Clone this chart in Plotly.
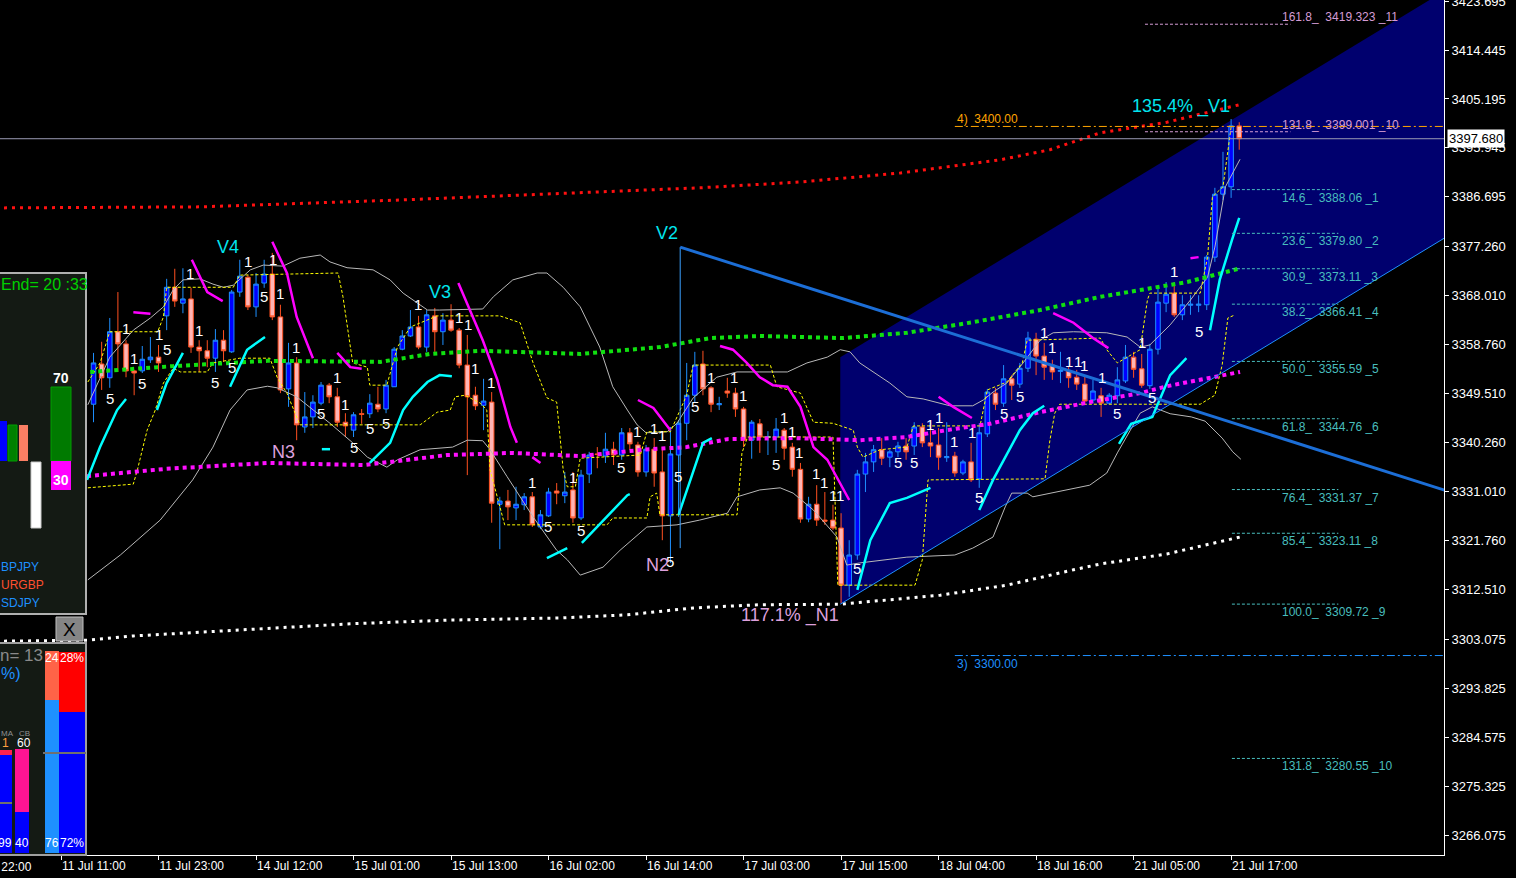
import plotly.graph_objects as go

# ---------------- data ----------------
bar_idx = list(range(16, 158))
open_px = [3347.5,3355.1,3352.5,3361.2,3358.9,3353.8,3353.8,3355.9,3356.4,3364.2,
           3369.6,3366.6,3367.4,3358.3,3357.6,3356.2,3359.6,3357.4,3368.7,3371.5,
           3365.9,3370.4,3372.1,3364.0,3350.4,3355.3,3343.2,3345.1,3347.7,3351.1,
           3348.9,3344.1,3342.6,3345.7,3345.7,3347.5,3346.6,3350.8,3357.9,3360.4,
           3362.1,3358.3,3364.2,3361.2,3363.4,3361.5,3354.9,3349.2,3347.3,3347.9,
           3328.6,3329.2,3327.9,3328.5,3330.0,3324.3,3326.4,3331.1,3330.2,3331.3,
           3326.0,3334.3,3338.1,3337.7,3339.0,3337.9,3342.1,3339.8,3334.7,3339.0,
           3334.7,3326.4,3337.9,3343.9,3349.2,3355.1,3350.6,3347.4,3350.0,3349.6,
           3346.6,3340.7,3343.8,3341.2,3341.3,3342.6,3339.4,3335.2,3325.8,3328.6,
           3325.6,3325.6,3324.1,3313.3,3319.0,3334.3,3336.6,3338.9,3337.5,3338.5,
           3339.6,3339.6,3343.2,3340.2,3339.8,3337.4,3337.7,3334.5,3336.6,3333.4,
           3341.9,3349.6,3347.7,3352.3,3351.3,3354.3,3359.8,3356.6,3354.9,3353.7,
           3353.8,3352.6,3351.3,3348.3,3349.1,3347.7,3349.1,3351.9,3356.4,3354.2,
           3351.0,3357.9,3366.6,3368.5,3364.4,3366.2,3366.2,3366.3,3375.3,3387.2,
           3388.6,3400.1]
high_px = [3357.2,3359.3,3363.8,3368.7,3359.6,3354.0,3358.5,3360.2,3358.7,3371.2,
           3373.1,3373.2,3369.5,3359.6,3359.6,3361.7,3361.5,3369.1,3374.8,3371.9,
           3372.3,3374.8,3376.1,3366.3,3359.1,3356.4,3349.8,3349.2,3351.7,3351.5,
           3350.6,3345.8,3346.0,3346.6,3349.4,3350.8,3352.1,3358.3,3361.5,3365.3,
           3364.2,3365.3,3365.7,3364.7,3366.4,3361.9,3360.6,3350.8,3352.3,3349.8,
           3330.0,3331.3,3331.9,3330.7,3330.9,3327.5,3331.7,3332.6,3334.7,3334.7,
           3335.1,3338.5,3339.4,3342.1,3340.4,3343.0,3343.0,3340.4,3339.8,3341.1,
           3339.4,3343.2,3344.5,3355.3,3357.4,3357.6,3350.9,3348.9,3352.5,3350.6,
           3347.0,3344.5,3344.7,3342.4,3344.9,3343.0,3340.2,3336.4,3330.0,3332.2,
           3330.9,3328.5,3326.9,3321.8,3335.1,3338.3,3339.8,3341.1,3338.9,3340.4,
           3341.1,3344.1,3343.9,3343.6,3343.0,3344.1,3338.5,3337.0,3340.2,3343.9,
           3350.4,3350.6,3354.9,3353.0,3355.3,3361.2,3361.0,3359.1,3355.9,3357.4,
           3354.5,3354.0,3353.0,3352.1,3350.6,3349.6,3354.5,3358.7,3357.4,3357.0,
           3358.9,3369.6,3370.6,3370.6,3368.1,3368.1,3368.1,3375.7,3388.4,3395.2,
           3401.4,3400.8]
low_px = [3344.1,3350.2,3350.6,3353.6,3352.6,3349.2,3353.4,3355.3,3353.6,3361.5,
          3365.9,3364.7,3357.2,3353.6,3354.5,3353.6,3355.5,3357.2,3367.8,3365.3,
          3364.0,3369.5,3363.4,3349.6,3347.0,3340.7,3342.1,3343.0,3347.3,3347.7,
          3343.2,3341.3,3341.3,3343.8,3344.9,3346.0,3345.8,3350.8,3357.7,3360.2,
          3357.9,3357.4,3357.4,3358.7,3361.2,3354.3,3334.1,3346.4,3342.6,3325.1,
          3320.1,3325.6,3325.6,3327.5,3324.3,3323.9,3326.2,3328.6,3328.8,3325.1,
          3325.6,3332.6,3335.4,3336.4,3336.0,3337.0,3338.9,3333.8,3333.8,3331.9,
          3321.8,3317.5,3326.2,3340.7,3347.9,3349.2,3346.0,3346.4,3348.7,3345.1,
          3339.4,3337.2,3338.3,3337.9,3338.3,3337.0,3333.8,3325.1,3325.2,3324.5,
          3324.7,3323.7,3309.9,3311.1,3318.1,3330.9,3334.7,3336.0,3335.6,3337.5,
          3337.0,3337.9,3339.4,3337.5,3335.1,3336.6,3333.8,3334.1,3332.8,3331.7,
          3341.3,3346.4,3347.0,3348.3,3350.6,3353.6,3353.0,3352.1,3352.1,3351.5,
          3350.6,3350.2,3347.7,3347.7,3345.1,3347.5,3347.7,3351.5,3352.5,3350.6,
          3350.4,3356.9,3364.9,3364.0,3363.4,3364.4,3364.9,3365.3,3374.4,3386.1,
          3386.5,3395.6]
close_px = [3355.3,3352.5,3361.2,3358.9,3353.8,3353.4,3356.0,3356.4,3355.3,3369.6,
            3367.0,3367.4,3358.3,3357.6,3356.2,3359.6,3357.6,3368.7,3371.7,3365.9,
            3370.2,3372.1,3364.0,3350.2,3355.3,3343.6,3345.1,3347.9,3351.1,3348.9,
            3344.1,3343.4,3345.5,3345.6,3347.7,3346.6,3351.1,3357.9,3360.4,3362.1,
            3358.3,3364.4,3361.2,3363.4,3361.5,3354.9,3348.9,3347.2,3348.1,3328.8,
            3329.2,3328.1,3328.6,3330.0,3324.7,3326.6,3330.9,3330.7,3330.9,3326.0,
            3334.1,3337.9,3338.0,3339.0,3337.9,3342.1,3340.0,3334.7,3339.0,3334.5,
            3326.4,3338.1,3343.9,3349.2,3354.9,3350.4,3347.5,3347.6,3349.6,3346.6,
            3340.7,3344.1,3341.3,3341.4,3342.8,3339.2,3335.2,3325.8,3328.6,3325.6,
            3325.4,3324.1,3313.3,3319.0,3334.3,3336.6,3338.9,3337.3,3338.5,3339.6,
            3338.5,3343.2,3340.2,3339.6,3337.5,3337.6,3334.5,3336.6,3333.2,3342.1,
            3349.8,3347.5,3352.3,3351.1,3354.3,3360.0,3356.6,3354.5,3353.6,3353.9,
            3352.5,3351.3,3348.1,3350.0,3347.7,3349.2,3352.1,3356.4,3354.1,3351.1,
            3357.9,3366.8,3368.3,3364.4,3366.3,3366.4,3366.4,3375.3,3387.2,3388.6,
            3400.1,3397.68]

tick_bars = [12, 24, 36, 48, 60, 72, 84, 96, 108, 120, 132, 144, 156]
tick_text = ["11 Jul 11:00", "11 Jul 23:00", "14 Jul 12:00", "15 Jul 01:00",
             "15 Jul 13:00", "16 Jul 02:00", "16 Jul 14:00", "17 Jul 03:00",
             "17 Jul 15:00", "18 Jul 04:00", "18 Jul 16:00", "21 Jul 05:00",
             "21 Jul 17:00"]
price_ticks = [3423.695, 3414.445, 3405.195, 3395.945, 3386.695, 3377.260,
               3368.010, 3358.760, 3349.510, 3340.260, 3331.010, 3321.760,
               3312.510, 3303.075, 3293.825, 3284.575, 3275.325, 3266.075]

red_ma_x = [4.0, 29.1, 53.7, 78.3, 90.6, 103.0, 115.3, 127.6, 133.7, 139.9, 148.1, 157.0]
red_ma_y = [3384.6, 3384.8, 3386.1, 3387.6, 3388.4, 3389.5, 3391.2, 3393.7, 3395.6, 3398.8, 3400.8, 3404.1]
green_ma_x = [15.6, 25.8, 37.4, 51.3, 57.4, 63.6, 75.9, 85.7, 91.9, 98.0, 108.2, 116.1,
              124.2, 132.5, 139.9, 145.2, 150.6, 156.9]
green_ma_y = [3353.6, 3354.7, 3355.7, 3355.5, 3357.0, 3357.6, 3357.0, 3358.3, 3360.0, 3360.4,
              3360.0, 3361.0, 3363.0, 3365.3, 3367.8, 3369.1, 3370.6, 3373.1]
magenta_ma_x = [15.2, 25.0, 37.4, 49.2, 55.3, 59.5, 67.6, 75.9, 83.6, 89.0, 94.0, 102.1,
                110.3, 116.1, 121.0, 126.3, 132.5, 138.6, 144.8, 148.1, 157.1]
magenta_ma_y = [3333.9, 3335.3, 3336.4, 3336.0, 3337.1, 3337.9, 3338.3, 3337.7, 3338.9,
                3339.4, 3340.9, 3341.1, 3340.7, 3341.3, 3342.6, 3343.8, 3346.0, 3347.9,
                3349.6, 3350.9, 3353.6]
white_ma_x = [4.0, 15.2, 20.9, 29.1, 35.0, 47.6, 59.9, 73.4, 81.7, 89.8, 98.0, 107.9,
              120.2, 128.4, 136.6, 139.9, 148.1, 157.1]
white_ma_y = [3302.7, 3302.9, 3303.7, 3304.4, 3304.8, 3306.0, 3306.7, 3307.1, 3307.7,
              3309.0, 3309.6, 3309.7, 3311.4, 3313.3, 3316.2, 3317.3, 3319.2, 3322.4]

bb_up_x = [15.3,18.0,20.9,23.0,24.6,25.8,27.0,29.1,30.7,32.0,33.2,35.3,36.9,39.3,41.4,
           43.9,45.1,47.2,50.4,52.5,54.1,55.3,57.1,58.6,62.0,63.9,65.2,67.6,70.6,71.8,
           73.8,75.9,78.3,79.9,81.7,82.9,84.0,86.6,87.8,89.8,92.7,95.2,98.0,101.4,103.8,
           106.3,107.9,109.1,110.3,111.9,114.0,116.1,118.1,121.4,124.2,125.5,126.7,128.4,
           130.4,132.5,134.1,136.6,140.7,143.2,144.8,146.0,148.5,151.0,153.1,154.0,155.3,157.1]
bb_up_y = [3347.4,3356.4,3361.5,3363.8,3365.9,3369.1,3371.0,3371.2,3370.2,3369.6,3370.0,
           3372.9,3373.8,3373.6,3375.1,3375.7,3374.4,3373.3,3372.9,3371.0,3368.5,3367.2,
           3365.3,3365.3,3365.5,3365.5,3367.8,3371.0,3372.3,3372.3,3369.6,3365.9,3358.3,
           3350.8,3346.4,3343.6,3342.1,3342.3,3343.9,3348.7,3352.6,3353.6,3353.6,3353.6,
           3355.3,3356.4,3357.8,3357.4,3355.3,3353.6,3351.5,3348.9,3348.5,3347.2,3347.2,
           3348.3,3349.8,3351.5,3355.3,3359.6,3361.0,3361.2,3361.0,3360.2,3358.3,3358.7,
           3362.5,3367.2,3371.5,3377.2,3388.6,3393.8]
bb_lo_x = [15.3,19.3,24.2,28.2,30.7,32.8,34.9,37.4,38.6,41.0,45.1,47.9,49.7,52.1,53.4,
           56.2,60.2,62.0,63.9,64.8,66.9,70.1,73.0,74.3,75.9,78.7,80.8,84.1,87.8,90.6,
           94.0,95.2,98.0,100.5,102.1,104.6,107.5,108.7,110.3,116.1,122.0,124.2,126.7,
           128.2,129.0,130.9,131.6,134.6,138.6,140.7,142.0,143.6,144.8,146.3,148.5,151.1,
           152.8,154.9,156.2,157.2]
bb_lo_y = [3314.3,3319.0,3325.6,3333.2,3339.4,3346.4,3350.2,3350.9,3350.6,3348.9,3343.9,
           3340.2,3337.5,3335.6,3337.0,3338.9,3339.4,3340.7,3340.6,3338.9,3333.8,3326.2,
           3319.9,3318.1,3315.2,3316.7,3319.9,3324.3,3324.7,3325.6,3326.9,3330.0,3331.3,
           3331.7,3330.7,3327.5,3322.4,3317.1,3317.5,3318.6,3319.0,3320.3,3322.4,3328.1,
           3330.7,3330.7,3330.0,3330.9,3332.2,3334.5,3338.3,3342.6,3345.8,3347.0,3345.7,
           3345.1,3344.3,3341.1,3338.5,3337.1]

yel_up_x = [15.3,16.8,18.0,23.9,24.6,25.0,33.2,34.0,46.1,46.7,47.9,49.7,50.0,52.1,53.4,
            55.0,58.3,66.0,68.5,70.1,71.8,73.0,73.8,74.3,75.3,75.9,83.3,84.1,87.0,89.0,
            89.8,99.3,100.1,103.0,104.6,107.0,109.5,110.0,110.7,112.8,116.1,116.9,125.1,
            126.0,128.4,130.3,130.9,139.9,140.7,142.0,143.0,144.8,145.7,146.0,152.2,153.1,
            153.7,155.0,155.5,156.0]
yel_up_y = [3351.7,3355.3,3361.2,3361.2,3364.0,3369.6,3369.6,3371.9,3372.3,3367.8,3355.3,
            3354.5,3351.1,3351.1,3358.3,3362.1,3364.2,3364.2,3362.9,3355.3,3348.7,3347.9,
            3335.1,3331.9,3331.9,3337.3,3337.9,3342.3,3342.3,3349.2,3354.9,3354.9,3350.8,
            3349.6,3344.1,3343.9,3342.6,3339.4,3337.5,3338.9,3339.4,3343.4,3343.4,3350.2,
            3351.7,3355.3,3359.6,3360.0,3357.8,3355.3,3356.2,3357.8,3367.2,3368.5,3368.5,
            3375.3,3386.7,3388.6,3394.2,3399.9]
yel_lo_x = [15.3,20.9,21.4,22.6,23.6,24.6,25.8,26.7,30.0,30.7,34.0,37.7,38.6,39.8,41.4,
            56.2,58.3,59.9,60.5,61.7,63.6,64.4,64.8,66.0,66.6,79.2,79.9,84.1,84.5,85.3,
            85.7,95.2,95.8,96.5,107.0,107.6,117.1,118.0,118.7,133.1,133.7,134.3,134.9,
            152.2,154.0,154.9,155.6,156.5]
yel_lo_y = [3331.7,3332.4,3335.1,3342.6,3346.4,3351.5,3354.3,3353.6,3353.6,3355.3,3356.2,
            3356.2,3352.6,3349.6,3343.6,3343.6,3346.0,3346.4,3348.9,3349.2,3347.7,3346.4,
            3335.1,3328.1,3324.7,3324.7,3326.0,3326.0,3330.0,3330.7,3326.6,3326.6,3338.3,
            3341.3,3341.3,3313.3,3313.3,3318.1,3333.2,3333.4,3340.7,3345.8,3347.5,3347.5,
            3349.2,3354.9,3363.8,3364.4]

cyan_segments = [
    ([15.2, 16.8, 18.9, 20.0], [3333.2, 3339.4, 3346.4, 3348.5]),
    ([23.8, 25.0, 27.0], [3346.4, 3351.5, 3357.2]),
    ([32.8, 34.9, 37.1], [3350.8, 3357.8, 3360.2]),
    ([44.1, 45.1], [3339.0, 3339.0]),
    ([50.0, 52.5, 54.1, 55.3, 57.1, 58.6, 60.1], [3336.4, 3340.2, 3346.4, 3348.9, 3351.7, 3353.0, 3352.8]),
    ([71.8, 74.3], [3318.4, 3320.3]),
    ([76.1, 79.6, 81.7, 82.0], [3321.3, 3326.9, 3330.3, 3330.5]),
    ([88.0, 91.0, 92.1], [3326.6, 3340.2, 3341.1]),
    ([110.0, 111.6, 114.0, 116.1, 119.0], [3312.4, 3321.8, 3328.8, 3329.8, 3331.7]),
    ([125.0, 126.7, 130.0, 131.6, 133.0], [3327.5, 3333.2, 3342.6, 3345.8, 3347.2]),
    ([142.2, 143.7, 146.3, 148.5, 150.5], [3340.0, 3343.8, 3345.1, 3353.0, 3356.2]),
    ([153.4, 154.6, 156.1, 157.0], [3361.5, 3371.0, 3378.5, 3382.7]),
]
magenta_segments = [
    ([20.9, 23.0], [3364.9, 3364.6]),
    ([28.1, 30.0, 31.9], [3374.8, 3368.7, 3367.0]),
    ([38.0, 39.8, 41.0, 43.0], [3378.2, 3372.3, 3364.0, 3356.2]),
    ([46.0, 47.6, 49.0], [3357.2, 3354.5, 3354.2]),
    ([60.9, 62.3, 63.9, 65.7, 67.3, 68.1], [3370.4, 3365.3, 3359.6, 3352.1, 3343.2, 3340.2]),
    ([70.0, 71.0], [3337.5, 3336.4]),
    ([83.0, 84.9, 87.0], [3348.3, 3346.8, 3342.6]),
    ([93.1, 94.7, 96.4, 98.0, 99.6, 101.4, 103.0, 104.6, 106.3, 107.9, 109.0],
     [3358.5, 3357.8, 3355.3, 3352.6, 3351.1, 3350.8, 3347.0, 3339.4, 3337.0, 3332.6, 3329.4]),
    ([120.0, 121.8, 124.1], [3348.9, 3347.0, 3344.9]),
    ([134.1, 136.6, 139.0, 140.9], [3364.7, 3362.9, 3360.0, 3358.1]),
    ([151.0, 152.0], [3375.1, 3375.3]),
]

count_x = [20.0,21.0,18.0,22.0,24.0,25.0,27.9,29.0,31.0,33.0,35.0,37.0,38.1,39.0,40.9,
           44.0,46.0,47.0,48.0,50.0,52.0,55.9,61.0,62.1,63.0,64.9,70.0,71.9,75.0,76.0,
           80.9,82.9,85.0,86.0,87.9,86.9,90.0,92.0,94.8,95.9,100.0,101.0,101.9,102.8,
           104.9,105.9,107.0,107.9,110.0,115.0,117.0,119.0,120.0,121.9,124.1,125.0,128.0,
           130.0,133.0,134.0,136.0,137.1,137.9,140.1,142.0,145.0,146.3,149.0,152.0]
count_y = [3361.9,3356.2,3348.5,3351.5,3360.6,3357.9,3372.3,3361.5,3351.7,3354.5,3374.4,
           3367.8,3374.8,3368.5,3358.3,3345.8,3352.5,3347.5,3339.4,3343.0,3343.9,3366.3,
           3363.8,3362.5,3354.3,3351.7,3332.8,3324.3,3333.6,3323.7,3335.6,3342.4,3343.0,
           3341.5,3333.9,3317.7,3347.0,3352.6,3352.6,3349.2,3336.2,3344.9,3342.3,3338.3,
           3334.5,3332.8,3330.3,3330.3,3316.5,3336.4,3336.4,3343.6,3344.9,3340.4,3342.1,
           3329.8,3345.8,3348.9,3361.0,3358.3,3355.5,3355.5,3354.9,3352.5,3345.8,3359.1,
           3348.7,3372.5,3361.2]
count_text = ["1","1","5","5","1","5","1","1","5","5","1","5","1","1","1",
              "5","1","1","5","5","5","1","1","1","1","1","1","5","1","5",
              "5","1","1","1","5","5","5","1","1","1","5","1","1","1",
              "1","1","1","1","5","5","5","1","1","1","1","5","5",
              "5","1","1","1","1","1","1","5","1","5","1","5"]

wave_text = ["V4", "V3", "V2", "135.4% _V1", "N3", "N2", "117.1% _N1"]
wave_x = [32.5, 58.6, 86.6, 149.8, 39.4, 85.4, 101.7]
wave_y = [3377.2, 3368.7, 3379.9, 3403.7, 3338.5, 3317.1, 3307.5]

# V2 trend line and N1-based channel
trend_x = [88.2, 183.0]
trend_y = [3377.2, 3330.9]
v2_drop_y = [3377.2, 3320.3]
channel_x = [107.9, 183.0]
channel_lower = [3309.7, 3379.6]
channel_upper = [3356.4, 3426.3]

last_price = 3397.68
level_prices = [3400.00, 3300.00]
level_names = ["4)  3400.00", "3)  3300.00"]
level_start = 122.0

fib_low_prices = [3388.06, 3379.80, 3373.11, 3366.41, 3355.59, 3344.76, 3331.37, 3323.11, 3309.72, 3280.55]
fib_low_labels = ["14.6_  3388.06 _1", "23.6_  3379.80 _2", "30.9_  3373.11 _3", "38.2_  3366.41 _4",
                  "50.0_  3355.59 _5", "61.8_  3344.76 _6", "76.4_  3331.37 _7", "85.4_  3323.11 _8",
                  "100.0_  3309.72 _9", "131.8_  3280.55 _10"]
fib_high_prices = [3419.323, 3399.001]
fib_high_labels = ["161.8_  3419.323 _11", "131.8_  3399.001 _10"]
fib_low_span = [156.1, 169.2]
fib_high_span = [145.4, 163.3]
fib_label_x = 162.0

# ---------------- figure ----------------
X0, X1 = 4.49, 182.2
Y0, Y1 = 3262.3, 3423.9
PW, PH = 1444, 855
FONT = "Liberation Sans, Arial, sans-serif"
CYAN = "#00E5EE"
PLUM = "#DDA0DD"
TEAL = "#48BEBE"
PINKF = "#D49CD4"

def pxp(x):
    return x / PW

def pyp(y):
    return 1 - y / PH

def bar_paper(b):
    return (b - X0) / (X1 - X0)

fig = go.Figure()
shapes = []
annotations = []

# channel fill (below traces)
shapes.append(dict(type="path", xref="x", yref="y", layer="below",
                   path=f"M {channel_x[0]},{channel_lower[0]} L {channel_x[1]},{channel_lower[1]} "
                        f"L {channel_x[1]},{channel_upper[1]} L {channel_x[0]},{channel_upper[0]} Z",
                   fillcolor="#00006E", line=dict(width=0)))

def line(x, y, color, width=1, dash=None):
    fig.add_trace(go.Scatter(x=x, y=y, mode="lines", hoverinfo="skip",
                             line=dict(color=color, width=width, dash=dash)))

line(bb_up_x, bb_up_y, "#B8B8B8", 1)
line(bb_lo_x, bb_lo_y, "#B8B8B8", 1)
line(yel_up_x, yel_up_y, "#FFFF00", 1, "3px,2px")
line(yel_lo_x, yel_lo_y, "#FFFF00", 1, "3px,2px")
line(red_ma_x, red_ma_y, "#FF1010", 3, "3px,5px")
line(white_ma_x, white_ma_y, "#FFFFFF", 3, "3px,5px")
line(green_ma_x, green_ma_y, "#10E010", 4, "4px,4px")
line(magenta_ma_x, magenta_ma_y, "#FF10FF", 4, "4px,4px")
for sx, sy in cyan_segments:
    line(sx, sy, "#00FFFF", 2.5)
for sx, sy in magenta_segments:
    line(sx, sy, "#FF00FF", 2.5)
line(channel_x, channel_lower, "#1E90FF", 1)
line([trend_x[0], trend_x[0]], v2_drop_y, "#3AA0FF", 1)
line(trend_x, trend_y, "#1C6ED6", 3)

# horizontal price lines
line([X0, X1], [last_price, last_price], "#9A9AB4", 1)
line([level_start, X1], [level_prices[0]] * 2, "#FFA500", 1, "8px,3px,2px,3px")
line([level_start, X1], [level_prices[1]] * 2, "#1E90FF", 1, "8px,3px,2px,3px")
for p in fib_low_prices:
    line(fib_low_span, [p, p], TEAL, 1, "3px,2px")
for p in fib_high_prices:
    line(fib_high_span, [p, p], PINKF, 1, "3px,2px")

fig.add_trace(go.Candlestick(
    x=bar_idx, open=open_px, high=high_px, low=low_px, close=close_px,
    increasing=dict(fillcolor="#0000FF", line=dict(color="#1E90FF", width=1)),
    decreasing=dict(fillcolor="#FFB4B4", line=dict(color="#FF5020", width=1)),
    whiskerwidth=0, hoverinfo="skip"))

# ---- text on chart ----
for x, y, t in zip(count_x, count_y, count_text):
    annotations.append(dict(x=x, y=y, text=t, showarrow=False, xref="x", yref="y",
                            font=dict(family=FONT, size=15, color="white")))
for x, y, t in zip(wave_x, wave_y, wave_text):
    annotations.append(dict(x=x, y=y, text=t, showarrow=False, xref="x", yref="y",
                            font=dict(family=FONT, size=18, color=CYAN if "V" in t else PLUM)))
for p, name, col in zip(level_prices, level_names, ["#FFA500", "#1E90FF"]):
    annotations.append(dict(x=level_start, y=p, text=name, showarrow=False, xref="x", yref="y",
                            xanchor="left", yanchor="middle", yshift=7 if p > 3350 else -8,
                            font=dict(family=FONT, size=12, color=col)))
for p, t in zip(fib_low_prices, fib_low_labels):
    annotations.append(dict(x=fib_label_x, y=p, text=t, showarrow=False, xref="x", yref="y",
                            xanchor="left", yanchor="middle", yshift=-8,
                            font=dict(family=FONT, size=12, color=TEAL)))
for p, t in zip(fib_high_prices, fib_high_labels):
    annotations.append(dict(x=fib_label_x, y=p, text=t, showarrow=False, xref="x", yref="y",
                            xanchor="left", yanchor="middle", yshift=7,
                            font=dict(family=FONT, size=12, color=PINKF)))

# last price box
annotations.append(dict(x=1, y=last_price, xref="paper", yref="y", xanchor="left", xshift=3,
                        text=f"{last_price:.3f}", showarrow=False, bgcolor="white", borderpad=1,
                        font=dict(family=FONT, size=13, color="black")))
# partially visible first time label
annotations.append(dict(x=bar_paper(0), y=0, xref="paper", yref="paper", xanchor="left",
                        yanchor="top", yshift=-3, text="10 Jul 22:00", showarrow=False,
                        font=dict(family=FONT, size=12, color="white")))

# ---- left overlay panels (screen furniture) ----
def rect(x0, y0, x1, y1, fill, border=None, bw=1):
    shapes.append(dict(type="rect", xref="paper", yref="paper", layer="above",
                       x0=pxp(x0), x1=pxp(x1), y0=pyp(y1), y1=pyp(y0), fillcolor=fill,
                       line=dict(color=border if border else fill, width=bw if border else 0)))

def hline(x0, x1, y, color, w=2):
    shapes.append(dict(type="line", xref="paper", yref="paper", layer="above",
                       x0=pxp(x0), x1=pxp(x1), y0=pyp(y), y1=pyp(y), line=dict(color=color, width=w)))

def ptext(x, y, t, color, size=12, anchor="left", bold=False):
    annotations.append(dict(x=pxp(x), y=pyp(y), xref="paper", yref="paper",
                            text=f"<b>{t}</b>" if bold else t,
                            showarrow=False, xanchor=anchor, yanchor="middle",
                            font=dict(family=FONT, size=size, color=color)))

rect(-3, 273, 86, 614, "#141A14", "#B0B0B0", 2)
ptext(-1, 285, "End= 20 :33", "#00D000", 16)
rect(0, 421, 7, 461, "#0000FF")
rect(8, 425, 17, 461, "#008000", "#00A000")
rect(19, 425, 28, 461, "#FA7F64")
rect(51, 387, 71, 461, "#007A00", "#00A000")
rect(51, 461, 71, 490, "#FF00FF")
rect(31, 462, 41, 528, "#FFFFFF", "#C8C8C8")
ptext(61, 378, "70", "white", 14, "center", True)
ptext(61, 480, "30", "white", 14, "center", True)
ptext(-1, 567, "BPJPY", "#1E90FF", 12)
ptext(-1, 585, "URGBP", "#FF5030", 12)
ptext(-1, 603, "SDJPY", "#1E90FF", 12)

rect(56, 617, 83, 641, "#858585", "#C0C0C0", 1)
ptext(69.5, 629, "X", "black", 19, "center")

rect(-3, 643, 86, 855, "#141A14", "#A0A0A0", 2)
ptext(-2, 655, "n= 13", "#8A8A8A", 17)
ptext(-1, 673, "%)", "#1E90FF", 16)
ptext(-1, 733, "MA", "#909090", 8)
ptext(17, 733, "CB", "#909090", 8)
ptext(0, 743, "1", "#FFA040", 12)
ptext(15, 743, "60", "white", 12)
rect(0, 750, 12, 755, "#FF2050")
rect(0, 755, 12, 853, "#0000FF")
rect(15, 749, 29, 812, "#FF1493")
rect(15, 812, 29, 853, "#0000FF")
rect(45, 651, 59, 700, "#FF6347")
rect(45, 700, 59, 853, "#1E90FF")
rect(59, 652, 85, 712, "#FF0000")
rect(59, 712, 85, 853, "#0000FF")
hline(0, 12, 803, "#707070")
hline(43, 86, 753, "#707070")
ptext(52, 658, "24", "white", 12, "center")
ptext(72, 658, "28%", "white", 12, "center")
ptext(52, 843, "76", "white", 12, "center")
ptext(72, 843, "72%", "white", 12, "center")
ptext(5, 843, "99", "white", 12, "center")
ptext(22, 843, "40", "white", 12, "center")

fig.update_layout(
    width=1516, height=878,
    margin=dict(l=0, r=72, t=0, b=23, pad=0, autoexpand=False),
    paper_bgcolor="black", plot_bgcolor="black",
    showlegend=False, hovermode=False, boxgap=0.2,
    font=dict(family=FONT, size=12, color="white"),
    shapes=shapes, annotations=annotations,
    xaxis=dict(range=[X0, X1], tickmode="array", tickvals=tick_bars, ticktext=tick_text,
               showgrid=False, zeroline=False, showline=True, linecolor="white", linewidth=1,
               ticks="outside", ticklen=4, tickcolor="white", ticklabelposition="outside right",
               tickfont=dict(family=FONT, size=12, color="white"), automargin=False,
               rangeslider=dict(visible=False), fixedrange=True),
    yaxis=dict(range=[Y0, Y1], side="right", tickmode="array", tickvals=price_ticks,
               ticktext=[f"{v:.3f}" for v in price_ticks], ticklabeloverflow="allow",
               showgrid=False, zeroline=False, showline=True, linecolor="white", linewidth=1,
               ticks="outside", ticklen=4, tickcolor="white", automargin=False,
               tickfont=dict(family=FONT, size=13, color="white"), fixedrange=True),
)

fig.write_html("out.html", config={"displayModeBar": False, "staticPlot": True},
               post_script="document.body.style.margin='0px';document.body.style.background='black';")
